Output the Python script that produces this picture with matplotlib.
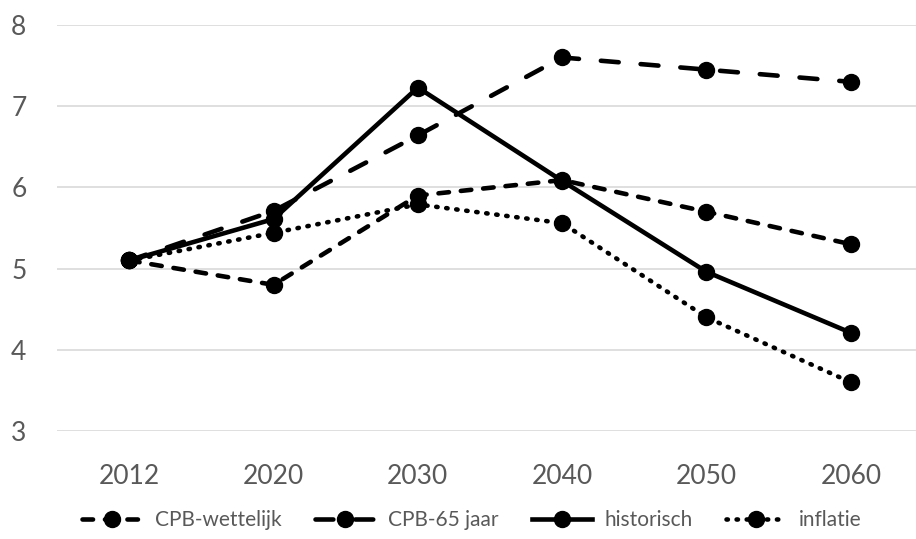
import numpy as np
import matplotlib
matplotlib.use("Agg")
import matplotlib.pyplot as plt

plt.rcParams['font.family'] = ['Lato', 'DejaVu Sans']

# data
jaren = ['2012', '2020', '2030', '2040', '2050', '2060']
cpb_wettelijk = [5.1, 4.8, 5.9, 6.09, 5.7, 5.3]
cpb_65_jaar = [5.1, 5.71, 6.64, 7.6, 7.45, 7.3]
historisch = [5.1, 5.61, 7.23, 6.08, 4.96, 4.21]
inflatie = [5.1, 5.44, 5.79, 5.56, 4.4, 3.6]

grijs = '#595959'

fig = plt.figure(figsize=(9.16, 5.39), dpi=100)
ax = fig.add_axes([57 / 916, 108 / 539, 866 / 916, 406 / 539])

x = np.arange(len(jaren))
lw = 3.3
ms = 11.5

lijnen = []
l, = ax.plot(x, cpb_wettelijk, color='black', lw=lw, marker='o', ms=ms,
             linestyle=(0, (2.3, 2.6)), label='CPB-wettelijk')
lijnen.append(l)
l, = ax.plot(x, cpb_65_jaar, color='black', lw=lw, marker='o', ms=ms,
             linestyle=(0, (3.9, 4.8)), label='CPB-65 jaar')
lijnen.append(l)
l, = ax.plot(x, historisch, color='black', lw=lw, marker='o', ms=ms,
             linestyle='-', label='historisch')
lijnen.append(l)
l, = ax.plot(x, inflatie, color='black', lw=lw, marker='o', ms=ms,
             linestyle=(0, (0.3, 1.9)), label='inflatie')
lijnen.append(l)
for l in lijnen:
    l.set_dash_capstyle('round')

ax.set_xlim(-0.5, len(jaren) - 0.5)
ax.set_ylim(3, 8)
ax.set_yticks([3, 4, 5, 6, 7, 8])
ax.set_xticks(x)
ax.set_xticklabels(jaren)
ax.grid(axis='y', color='#d9d9d9', lw=1.2)
ax.set_axisbelow(True)
for s in ax.spines.values():
    s.set_visible(False)
ax.tick_params(axis='both', length=0, labelsize=19, colors=grijs)
ax.tick_params(axis='x', pad=24)
ax.tick_params(axis='y', pad=22)

leg = fig.legend(loc='lower center', bbox_to_anchor=(0.515, -0.018), ncol=4,
                 frameon=False, fontsize=15, handlelength=2.9,
                 handletextpad=0.6, columnspacing=1.6)
for t in leg.get_texts():
    t.set_color(grijs)
for h in leg.legend_handles:
    h.set_dash_capstyle('round')

fig.savefig('out.png', dpi=100)
